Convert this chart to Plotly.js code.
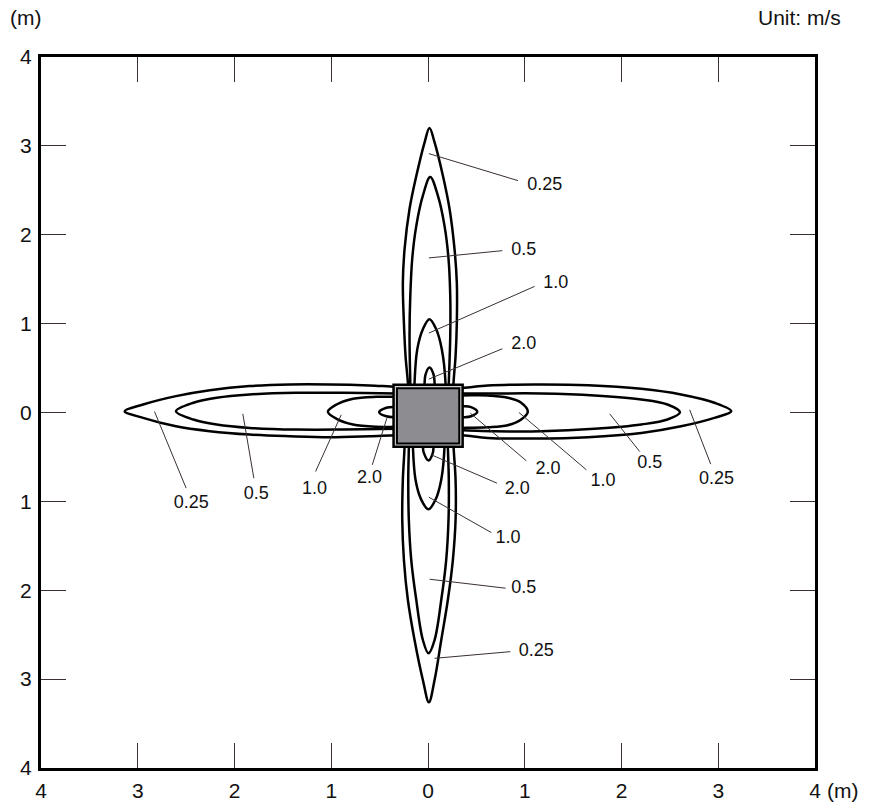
<!DOCTYPE html>
<html>
<head>
<meta charset="utf-8">
<script src="https://cdn.plot.ly/plotly-3.0.1.min.js"></script>
<style>html,body{margin:0;padding:0;background:#fff;}#chart{width:872px;height:807px;}</style>
</head>
<body>
<div id="chart"></div>
<script>
// ---- Data (metres; contour levels in m/s) ----
const levels = ['0.25', '0.5', '1.0', '2.0'];

// upward lobes
const up025 = [[-0.20,0.15],[-0.208,0.335],[-0.232,0.635],[-0.249,1.01],[-0.26,1.46],[-0.242,1.84],[-0.191,2.29],[-0.121,2.66],[-0.035,3.04],[0.015,3.20],[0.068,3.04],[0.153,2.67],[0.223,2.29],[0.274,1.84],[0.298,1.46],[0.298,1.01],[0.285,0.635],[0.264,0.335],[0.26,0.15]];
const up05 = [[-0.18,0.15],[-0.183,0.335],[-0.191,0.86],[-0.183,1.31],[-0.163,1.73],[-0.121,2.10],[-0.053,2.44],[0.023,2.65],[0.102,2.44],[0.171,2.10],[0.212,1.73],[0.23,1.31],[0.23,0.86],[0.215,0.335],[0.21,0.15]];
const up10 = [[-0.14,0.15],[-0.139,0.335],[-0.111,0.71],[-0.053,0.937],[0.015,1.05],[0.085,0.937],[0.143,0.71],[0.181,0.335],[0.18,0.15]];
const up20 = [[-0.035,0.2],[-0.035,0.335],[-0.025,0.43],[0.015,0.505],[0.057,0.43],[0.068,0.335],[0.068,0.2]];

// downward lobes
const down025 = [[-0.24,-0.2],[-0.242,-0.38],[-0.26,-0.756],[-0.266,-1.21],[-0.249,-1.66],[-0.208,-2.11],[-0.139,-2.56],[-0.053,-3.01],[0.009,-3.26],[0.068,-3.01],[0.137,-2.56],[0.205,-2.11],[0.257,-1.66],[0.285,-1.21],[0.285,-0.756],[0.264,-0.38],[0.26,-0.2]];
const down05 = [[-0.198,-0.2],[-0.198,-0.38],[-0.204,-0.756],[-0.198,-1.21],[-0.173,-1.66],[-0.121,-2.11],[-0.053,-2.56],[0.005,-2.71],[0.068,-2.56],[0.137,-2.11],[0.188,-1.66],[0.212,-1.21],[0.215,-0.756],[0.205,-0.38],[0.2,-0.2]];
const down10 = [[-0.156,-0.2],[-0.156,-0.38],[-0.129,-0.756],[-0.07,-0.98],[0.005,-1.09],[0.078,-0.98],[0.137,-0.756],[0.171,-0.38],[0.17,-0.2]];
const down20 = [[-0.053,-0.25],[-0.053,-0.38],[-0.043,-0.455],[0.005,-0.54],[0.05,-0.455],[0.057,-0.38],[0.057,-0.25]];

// leftward lobes
const left025 = [[-0.15,0.29],[-0.328,0.29],[-0.605,0.305],[-1.015,0.316],[-1.43,0.316],[-1.845,0.297],[-2.255,0.25],[-2.605,0.184],[-2.945,0.09],[-3.135,0.015],[-2.945,-0.06],[-2.605,-0.155],[-2.255,-0.21],[-1.845,-0.248],[-1.43,-0.267],[-1.015,-0.278],[-0.605,-0.267],[-0.328,-0.256],[-0.15,-0.256]];
const left05 = [[-0.15,0.214],[-0.328,0.214],[-0.88,0.222],[-1.361,0.222],[-1.845,0.203],[-2.185,0.166],[-2.425,0.11],[-2.605,0.015],[-2.425,-0.079],[-2.185,-0.135],[-1.845,-0.173],[-1.361,-0.192],[-0.88,-0.192],[-0.328,-0.184],[-0.15,-0.184]];
const left10 = [[-0.15,0.177],[-0.328,0.177],[-0.535,0.177],[-0.775,0.155],[-0.945,0.09],[-1.035,0.008],[-0.945,-0.071],[-0.775,-0.135],[-0.535,-0.161],[-0.328,-0.161],[-0.15,-0.161]];
const left20 = [[-0.2,0.064],[-0.328,0.064],[-0.431,0.053],[-0.505,0.003],[-0.431,-0.042],[-0.328,-0.053],[-0.2,-0.053]];

// rightward lobes
const right025 = [[0.2,0.279],[0.36,0.279],[0.618,0.305],[1.101,0.316],[1.655,0.308],[2.205,0.267],[2.615,0.203],[2.96,0.11],[3.135,0.015],[2.96,-0.06],[2.615,-0.155],[2.205,-0.23],[1.655,-0.278],[1.101,-0.293],[0.618,-0.286],[0.36,-0.256],[0.2,-0.256]];
const right05 = [[0.2,0.214],[0.36,0.214],[0.685,0.214],[1.17,0.214],[1.72,0.192],[2.205,0.147],[2.475,0.09],[2.605,0.003],[2.475,-0.079],[2.205,-0.135],[1.72,-0.184],[1.17,-0.211],[0.685,-0.211],[0.36,-0.2],[0.2,-0.2]];
const right10 = [[0.2,0.192],[0.36,0.192],[0.618,0.192],[0.825,0.166],[0.963,0.11],[1.032,0.008],[0.963,-0.079],[0.825,-0.143],[0.618,-0.166],[0.36,-0.173],[0.2,-0.173]];
const right20 = [[0.25,0.071],[0.36,0.071],[0.445,0.06],[0.509,0.008],[0.445,-0.042],[0.36,-0.053],[0.25,-0.053]];

// label texts, label anchor points and leader lines (start on contour -> end near label)
const labelText = ['0.25','0.5','1.0','2.0', '0.25','0.5','1.0','2.0', '2.0','1.0','0.5','0.25', '2.0','1.0','0.5','0.25'];
const labelX = [1.206,0.989,1.32,0.989, -2.448,-1.776,-1.173,-0.604, 1.24,1.809,2.292,2.981, 0.923,0.826,0.989,1.12];
const labelY = [2.556,1.821,1.449,0.762, -1.02,-0.919,-0.863,-0.747, -0.645,-0.777,-0.57,-0.758, -0.863,-1.422,-1.985,-2.691];
const leaderX0 = [0.009,0.009,0.009,0.009, -2.827,-1.914,-0.897,-0.425, 0.437,0.94,1.878,2.705, 0.034,0.009,0.017,0.068];
const leaderY0 = [2.913,1.739,0.894,0.376, 0.011,-0.015,-0.026,-0.063, -0.007,0.0,-0.015,0.03, -0.476,-0.953,-1.876,-2.766];
const leaderX1 = [0.93,0.768,1.102,0.768, -2.5,-1.80,-1.162,-0.576, 1.017,1.637,2.188,2.922, 0.713,0.655,0.802,0.851];
const leaderY1 = [2.609,1.821,1.419,0.717, -0.851,-0.739,-0.664,-0.589, -0.544,-0.645,-0.439,-0.581, -0.795,-1.351,-1.977,-2.691];

// pile (x0, x1, y0, y1)
const pileBox = [-0.356, 0.358, -0.386, 0.312];

const tickVals = [-4,-3,-2,-1,0,1,2,3,4];
const tickText = ['4','3','2','1','0','1','2','3','4'];

// ---- Build traces ----
const lobes = [up025, up05, up10, up20, down025, down05, down10, down20,
               left025, left05, left10, left20, right025, right05, right10, right20];
const traces = [];
lobes.forEach(function (pts) {
  traces.push({
    type: 'scatter', mode: 'lines',
    x: pts.map(function (p) { return p[0]; }),
    y: pts.map(function (p) { return p[1]; }),
    line: {color: '#000', width: 2.5, shape: 'spline', smoothing: 1},
    hoverinfo: 'skip', showlegend: false
  });
});

const lx = [], ly = [];
for (let i = 0; i < leaderX0.length; i++) {
  lx.push(leaderX0[i], leaderX1[i], null);
  ly.push(leaderY0[i], leaderY1[i], null);
}
traces.push({
  type: 'scatter', mode: 'lines', x: lx, y: ly,
  line: {color: '#3a3030', width: 1}, hoverinfo: 'skip', showlegend: false
});
traces.push({
  type: 'scatter', mode: 'text', x: labelX, y: labelY, text: labelText,
  textposition: 'middle center',
  textfont: {family: 'Liberation Sans, Arial, sans-serif', size: 18, color: '#111'},
  hoverinfo: 'skip', showlegend: false
});

const FONT = 'Liberation Sans, Arial, sans-serif';
const ix = 0.035, iy = 0.038;
const axisCommon = {
  range: [-4, 4], tickmode: 'array', tickvals: tickVals, ticktext: tickText,
  ticks: 'inside', ticklen: 25, tickwidth: 1, tickcolor: '#3a3030',
  showline: true, linewidth: 3, linecolor: '#000', mirror: 'ticks',
  showgrid: false, zeroline: false, fixedrange: true,
  tickfont: {family: FONT, size: 21, color: '#111'}
};

const layout = {
  width: 872, height: 807,
  margin: {l: 41, r: 57, t: 57, b: 39},
  paper_bgcolor: '#fff', plot_bgcolor: '#fff',
  showlegend: false,
  xaxis: Object.assign({}, axisCommon, {ticklabelstandoff: 2}),
  yaxis: Object.assign({}, axisCommon, {ticklabelstandoff: 2}),
  shapes: [
    {type: 'rect', layer: 'above', xref: 'x', yref: 'y',
     x0: pileBox[0], x1: pileBox[1], y0: pileBox[2], y1: pileBox[3],
     fillcolor: '#d4d4d4', line: {color: '#000', width: 2.5}},
    {type: 'rect', layer: 'above', xref: 'x', yref: 'y',
     x0: pileBox[0] + ix, x1: pileBox[1] - ix, y0: pileBox[2] + iy, y1: pileBox[3] - iy,
     fillcolor: '#8c8c91', line: {color: '#000', width: 2}}
  ],
  annotations: [
    {xref: 'paper', yref: 'paper', x: -0.02, y: 1.055, text: '(m)', showarrow: false,
     xanchor: 'center', yanchor: 'middle',
     font: {family: FONT, size: 21, color: '#111'}},
    {xref: 'paper', yref: 'paper', x: 1.036, y: 1.055, text: 'Unit: m/s', showarrow: false,
     xanchor: 'right', yanchor: 'middle',
     font: {family: FONT, size: 21, color: '#111'}},
    {xref: 'paper', yref: 'paper', x: 1.035, y: -0.031, text: '(m)', showarrow: false,
     xanchor: 'center', yanchor: 'middle',
     font: {family: FONT, size: 21, color: '#111'}}
  ]
};

Plotly.newPlot('chart', traces, layout, {displayModeBar: false, staticPlot: true});
</script>
</body>
</html>
